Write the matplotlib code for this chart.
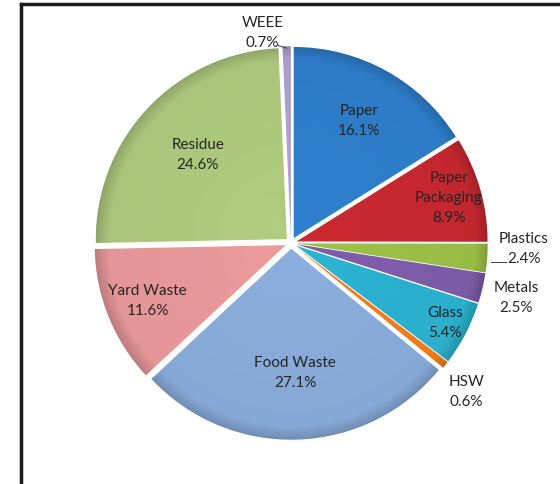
import numpy as np
import matplotlib

matplotlib.use("Agg")
import matplotlib.pyplot as plt
from matplotlib.lines import Line2D

categories = ["Paper", "Paper\nPackaging", "Plastics", "Metals", "Glass", "HSW",
              "Food Waste", "Yard Waste", "Residue", "WEEE"]
shares = [16.1, 8.9, 2.4, 2.5, 5.4, 0.6, 27.1, 11.6, 24.6, 0.7]
colors = ["#2d7bc6", "#c3272e", "#98bb45", "#7b5aa6", "#2aaecb", "#ee7a1c",
          "#86a8d6", "#e49597", "#a9c57b", "#ab9dcb"]

# label placement: inside labels use fraction of radius, outside ones absolute
inside_r = {"Paper": 0.70, "Paper\nPackaging": 0.83, "Glass": 0.88,
            "Food Waste": 0.65, "Yard Waste": 0.78, "Residue": 0.64}
outside_xy = {"WEEE": (-0.15, 1.10), "Plastics": (1.22, -0.03),
              "Metals": (1.18, -0.29), "HSW": (0.92, -0.78)}

R_PX = 191
CX, CY = 291, 243
W, H = 560, 484

plt.rcParams["font.family"] = ["Lato", "DejaVu Sans"]
fig = plt.figure(figsize=(W / 100, H / 100), dpi=100)
ax = fig.add_axes([0, 0, 1, 1])

wedges, _ = ax.pie(shares, colors=colors, startangle=90, counterclock=False,
                   explode=[0.03] * len(shares), radius=1.0,
                   wedgeprops=dict(edgecolor="white", linewidth=0.8))

ax.set_aspect("equal")
ax.axis("off")

# radial shading so the slices look like the bevelled office-style pie
n = 400
gx = np.linspace(-1.1, 1.1, n)
gxx, gyy = np.meshgrid(gx, gx)
rr = np.sqrt(gxx ** 2 + gyy ** 2)
shade = 1.0 + 0.04 * (1 - np.clip(rr, 0, 1)) - 0.16 * np.clip((rr - 0.93) / 0.07, 0, 1)
for w, c in zip(wedges, colors):
    rgb = np.array(matplotlib.colors.to_rgb(c))
    img = np.clip(rgb[None, None, :] * shade[..., None], 0, 1)
    cx, cy = w.center
    im = ax.imshow(img, extent=(cx - 1.1, cx + 1.1, cy - 1.1, cy + 1.1),
                   origin="lower", zorder=w.get_zorder() + 0.1, interpolation="bilinear")
    im.set_clip_path(w)

# pie() and imshow() both reset the limits, so set them last
ax.set_xlim(-CX / R_PX, (W - CX) / R_PX)
ax.set_ylim(-(H - CY) / R_PX, CY / R_PX)

txt = "#262626"
for w, name, val in zip(wedges, categories, shares):
    label = f"{name}\n{val:.1f}%"
    if name in inside_r:
        ang = np.deg2rad((w.theta1 + w.theta2) / 2)
        r = inside_r[name]
        x = w.center[0] + r * np.cos(ang)
        y = w.center[1] + r * np.sin(ang)
    else:
        x, y = outside_xy[name]
    ax.text(x, y, label, ha="center", va="center", fontsize=11, color=txt,
            linespacing=1.55, zorder=5)

# leader lines for the small outside labels
ang = np.deg2rad((wedges[9].theta1 + wedges[9].theta2) / 2)
ax.add_line(Line2D([-0.07, np.cos(ang) * 1.0], [1.035, 1.02], color="#404040", lw=0.7))
ax.add_line(Line2D([1.045, 1.125], [-0.1, -0.1], color="#404040", lw=0.7))

# frame lines (top and left) from the original figure crop
fig.add_artist(Line2D([21 / W, 1], [1 - 4 / H, 1 - 4 / H], color="#1a1a1a", lw=2.5,
                      transform=fig.transFigure))
fig.add_artist(Line2D([21 / W, 21 / W], [0, 1 - 4 / H], color="#1a1a1a", lw=2.5,
                      transform=fig.transFigure))

fig.savefig("out.png", dpi=100)
